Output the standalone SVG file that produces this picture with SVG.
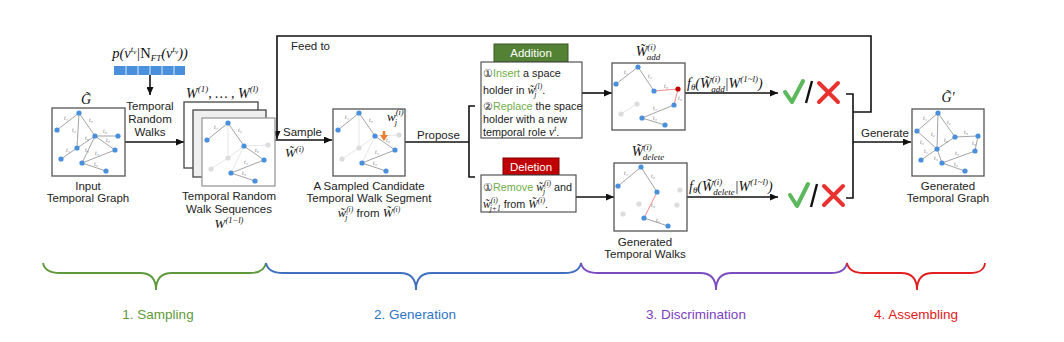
<svg xmlns="http://www.w3.org/2000/svg" xmlns:xlink="http://www.w3.org/1999/xlink" width="1064" height="342" viewBox="0 0 1064 342">
<style>
.lbl{font-family:"Liberation Sans",Arial,sans-serif;font-size:11.5px;fill:#222;text-anchor:middle}
.lbs{font-family:"Liberation Sans",Arial,sans-serif;font-size:11.5px;fill:#222}
.bx{font-family:"Liberation Sans",Arial,sans-serif;font-size:10.8px;fill:#222}
.g{fill:#70ad47}
.m{font-family:"Liberation Serif","DejaVu Serif",serif;font-style:italic;fill:#111}
.box{fill:#fff;stroke:#555;stroke-width:1.3}
.e{stroke:#9a9a9a;stroke-width:0.9;fill:none}
.eg{stroke:#e0e0e0;stroke-width:0.8;fill:none}
.er{stroke:#f28a8a;stroke-width:1;fill:none}
.n{fill:#4a8fdb}
.ng{fill:#dcdcdc}
.nr{fill:#c00000}
.t{font-family:"Liberation Serif","DejaVu Serif",serif;font-style:italic;font-size:6px;fill:#777}
.con{stroke:#111;stroke-width:1.6;fill:none}
.br{fill:none;stroke-width:1.8}
.ph{font-family:"Liberation Sans",Arial,sans-serif;font-size:13.5px;text-anchor:middle}
</style>
<defs>
<marker id="ah" markerUnits="userSpaceOnUse" markerWidth="8" markerHeight="7" refX="8" refY="3.5" orient="auto">
<path d="M0,0 L8,3.5 L0,7 z" fill="#111"/>
</marker>
<g id="walk">
<line class="eg" x1="0" y1="0" x2="0" y2="35"/>
<line class="eg" x1="16" y1="23" x2="0" y2="35"/>
<line class="eg" x1="16" y1="23" x2="40" y2="22"/>
<line class="eg" x1="0" y1="35" x2="-17" y2="46"/>
<line class="eg" x1="16" y1="23" x2="3" y2="50"/>
<line class="e" x1="0" y1="0" x2="-21" y2="17"/>
<line class="e" x1="0" y1="0" x2="16" y2="23"/>
<line class="e" x1="16" y1="23" x2="36" y2="37"/>
<line class="e" x1="3" y1="50" x2="36" y2="37"/>
<line class="e" x1="3" y1="50" x2="27" y2="58"/>
<text class="t" x="-14" y="6">t₁</text>
<text class="t" x="10" y="9">t₂</text>
<text class="t" x="27" y="29">t₃</text>
<text class="t" x="16" y="41">t₄</text>
<text class="t" x="14" y="52">t₅</text>
<circle class="n" cx="0" cy="0" r="2.6"/>
<circle class="n" cx="-21" cy="17" r="2.6"/>
<circle class="n" cx="16" cy="23" r="2.6"/>
<circle class="ng" cx="40" cy="22" r="2.6"/>
<circle class="ng" cx="0" cy="35" r="2.6"/>
<circle class="n" cx="36" cy="37" r="2.6"/>
<circle class="ng" cx="-17" cy="46" r="2.6"/>
<circle class="n" cx="3" cy="50" r="2.6"/>
<circle class="n" cx="27" cy="58" r="2.6"/>
</g>
</defs>
<rect width="1064" height="342" fill="#fff"/>

<g id="connectors">
<line class="con" x1="150" y1="75" x2="150" y2="95" marker-end="url(#ah)"/>
<line class="con" x1="125" y1="142" x2="184" y2="142" marker-end="url(#ah)"/>
<path class="con" d="M853,112 H871 V36 H277 V139" marker-end="url(#ah)"/>
<line class="con" x1="275" y1="140" x2="332" y2="140" marker-end="url(#ah)"/>
<line class="con" x1="405" y1="142" x2="469" y2="142"/>
<path class="con" d="M475,106 H469 V177 H475"/>
<line class="con" x1="582" y1="93" x2="612" y2="93" marker-end="url(#ah)"/>
<line class="con" x1="576" y1="197" x2="614" y2="197" marker-end="url(#ah)"/>
<line class="con" x1="685" y1="93" x2="778" y2="93" marker-end="url(#ah)"/>
<line class="con" x1="687" y1="197" x2="778" y2="197" marker-end="url(#ah)"/>
<path class="con" d="M846,94 H853 V198 H846"/>
<line class="con" x1="853" y1="142" x2="911" y2="142" marker-end="url(#ah)"/>
</g>

<g id="prob">
<text class="m" x="150" y="58" font-size="14.5" text-anchor="middle">p(v<tspan dy="-6" font-size="9">t</tspan><tspan dy="2" font-size="7">v</tspan><tspan dy="4">|</tspan><tspan font-style="normal">N</tspan><tspan dy="3" font-size="9">FT</tspan><tspan dy="-3">(v</tspan><tspan dy="-6" font-size="9">t</tspan><tspan dy="2" font-size="7">v</tspan><tspan dy="4">))</tspan></text>
<rect x="114" y="66" width="71" height="9" fill="#4a8fdb"/>
<path d="M126,66 V75 M138,66 V75 M150,66 V75 M162,66 V75 M174,66 V75" stroke="#fff" stroke-width="0.8"/>
<text class="lbl" x="150" y="110">Temporal</text>
<text class="lbl" x="150" y="123">Random</text>
<text class="lbl" x="150" y="136">Walks</text>
</g>

<g id="input-graph">
<text class="m" x="86" y="104" font-size="14" text-anchor="middle">G̃</text>
<rect class="box" x="52" y="108" width="73" height="68"/>
<line class="e" x1="79" y1="113" x2="57" y2="130"/>
<line class="e" x1="79" y1="113" x2="77" y2="148"/>
<line class="e" x1="79" y1="113" x2="95" y2="136"/>
<line class="e" x1="95" y1="136" x2="118" y2="136"/>
<line class="e" x1="95" y1="136" x2="77" y2="148"/>
<line class="e" x1="95" y1="136" x2="115" y2="150"/>
<line class="e" x1="77" y1="148" x2="61" y2="159"/>
<line class="e" x1="95" y1="136" x2="82" y2="163"/>
<line class="e" x1="82" y1="163" x2="115" y2="150"/>
<line class="e" x1="82" y1="163" x2="106" y2="171"/>
<text class="t" x="64" y="120">t₁</text>
<text class="t" x="72" y="132">t₂</text>
<text class="t" x="89" y="122">t₂</text>
<text class="t" x="103" y="133">t₃</text>
<text class="t" x="85" y="140">t₃</text>
<text class="t" x="106" y="142">t₃</text>
<text class="t" x="66" y="152">t₁</text>
<text class="t" x="85" y="152">t₅</text>
<text class="t" x="95" y="155">t₄</text>
<text class="t" x="94" y="166">t₅</text>
<circle class="n" cx="79" cy="113" r="2.6"/>
<circle class="n" cx="57" cy="130" r="2.6"/>
<circle class="n" cx="95" cy="136" r="2.6"/>
<circle class="n" cx="118" cy="136" r="2.6"/>
<circle class="n" cx="77" cy="148" r="2.6"/>
<circle class="n" cx="115" cy="150" r="2.6"/>
<circle class="n" cx="61" cy="159" r="2.6"/>
<circle class="n" cx="82" cy="163" r="2.6"/>
<circle class="n" cx="106" cy="171" r="2.6"/>
<text class="lbl" x="88" y="190">Input</text>
<text class="lbl" x="88" y="202">Temporal Graph</text>
</g>

<g id="walk-sequences">
<text class="m" x="186" y="98" font-size="14">W<tspan dy="-6" font-size="9">(1)</tspan><tspan dy="6">, … , W</tspan><tspan dy="-6" font-size="9">(l)</tspan></text>
<rect x="184" y="102" width="74" height="66" fill="#fff" stroke="#444" stroke-width="1.3"/>
<rect x="193" y="110" width="73" height="67" fill="#efefef" stroke="#444" stroke-width="1.3"/>
<rect x="202" y="118" width="73" height="68" fill="#fff" stroke="#999" stroke-width="1.3"/>
<use xlink:href="#walk" href="#walk" transform="translate(228,123)"/>
<text class="lbl" x="229" y="200">Temporal Random</text>
<text class="lbl" x="229" y="213">Walk Sequences</text>
<text class="m" x="229" y="228" font-size="13" text-anchor="middle">W<tspan dy="-5" font-size="8.5">(1−l)</tspan></text>
</g>

<g id="feed-sample">
<text class="lbs" x="291" y="50">Feed to</text>
<text class="lbs" x="283" y="136">Sample</text>
<text class="m" x="285" y="157" font-size="13">W̃<tspan dy="-5" font-size="8.5">(i)</tspan></text>
<text class="lbs" x="417" y="139">Propose</text>
</g>

<g id="candidate">
<rect class="box" x="333" y="109" width="72" height="67"/>
<use xlink:href="#walk" href="#walk" transform="translate(359,113)"/>
<path d="M384,131 V136" stroke="#ed7d31" stroke-width="2.6"/>
<path d="M380,135 L384,141 L388,135 z" fill="#ed7d31"/>
<text class="m" x="387" y="121" font-size="13">w<tspan dy="-6" font-size="8.5">(i)</tspan><tspan dx="-9" dy="10" font-size="8.5">j</tspan></text>
<text class="lbl" x="369" y="190">A Sampled Candidate</text>
<text class="lbl" x="369" y="202">Temporal Walk Segment</text>
<text class="lbl" x="369" y="217"><tspan class="m" font-size="12.5">w̃</tspan><tspan class="m" dy="-5" font-size="7.5">(i)</tspan><tspan class="m" dx="-8" dy="8" font-size="7.5">j</tspan><tspan dx="6" dy="-3"> from </tspan><tspan class="m" font-size="12.5">W̃</tspan><tspan class="m" dy="-5" font-size="7.5">(i)</tspan></text>
</g>

<g id="addition">
<rect x="494" y="44" width="74" height="18" fill="#548235" stroke="#385723" stroke-width="1"/>
<text class="lbl" x="531" y="57" style="fill:#fff">Addition</text>
<rect x="481" y="62" width="101" height="76" fill="#fff" stroke="#444" stroke-width="1.1"/>
<text class="bx" x="483" y="77">①<tspan class="g">Insert</tspan> a space</text>
<text class="bx" x="483" y="94">holder in <tspan class="m" font-size="11.5">w̃</tspan><tspan class="m" dy="-5" font-size="7.5">(l)</tspan><tspan class="m" dx="-8" dy="8" font-size="7.5">j</tspan><tspan dx="6" dy="-3">.</tspan></text>
<text class="bx" x="483" y="110">②<tspan class="g">Replace</tspan> the space</text>
<text class="bx" x="483" y="123">holder with a new</text>
<text class="bx" x="483" y="136">temporal role <tspan class="m" font-size="11.5">v</tspan><tspan class="m" dy="-5" font-size="7.5">t</tspan><tspan dy="5">.</tspan></text>
</g>

<g id="deletion">
<rect x="503" y="158" width="56" height="17" fill="#c00000" stroke="#800000" stroke-width="1"/>
<text class="lbl" x="531" y="171" style="fill:#fff">Deletion</text>
<rect x="481" y="175" width="95" height="37" fill="#fff" stroke="#444" stroke-width="1.1"/>
<text class="bx" x="483" y="191">①<tspan class="g">Remove</tspan> <tspan class="m" font-size="11.5">w̃</tspan><tspan class="m" dy="-5" font-size="7.5">(i)</tspan><tspan class="m" dx="-8" dy="8" font-size="7.5">j</tspan><tspan dx="6" dy="-3"> and</tspan></text>
<text class="bx" x="483" y="208"><tspan class="m" font-size="11.5">w̃</tspan><tspan class="m" dy="-5" font-size="7.5">(i)</tspan><tspan class="m" dx="-8" dy="8" font-size="7.5">j+1</tspan><tspan dy="-3"> from </tspan><tspan class="m" font-size="11.5">W̃</tspan><tspan class="m" dy="-5" font-size="7.5">(i)</tspan><tspan dy="5">.</tspan></text>
</g>

<g id="add-walk">
<text class="m" x="648" y="56" font-size="14" text-anchor="middle">W̃<tspan dy="-6" font-size="9">(i)</tspan><tspan dx="-9" dy="10" font-size="9">add</tspan></text>
<rect class="box" x="612" y="63" width="73" height="67"/>
<line class="eg" x1="637" y1="104" x2="621" y2="114"/>
<line class="e" x1="638" y1="67" x2="616" y2="84"/>
<line class="e" x1="638" y1="67" x2="654" y2="91"/>
<line class="er" x1="654" y1="91" x2="678" y2="89"/>
<line class="er" x1="678" y1="89" x2="674" y2="105"/>
<line class="e" x1="674" y1="105" x2="642" y2="118"/>
<line class="e" x1="642" y1="118" x2="665" y2="125"/>
<text class="t" x="624" y="74">t₁</text>
<text class="t" x="648" y="78">t₂</text>
<text class="t" x="664" y="88">t₃</text>
<text class="t" x="678" y="100">t₃</text>
<text class="t" x="653" y="110">t₄</text>
<text class="t" x="653" y="120">t₅</text>
<circle class="n" cx="638" cy="67" r="2.6"/>
<circle class="n" cx="616" cy="84" r="2.6"/>
<circle class="n" cx="654" cy="91" r="2.6"/>
<circle class="nr" cx="678" cy="89" r="2.6"/>
<circle class="n" cx="674" cy="105" r="2.6"/>
<circle class="ng" cx="637" cy="104" r="2.6"/>
<circle class="ng" cx="621" cy="114" r="2.6"/>
<circle class="n" cx="642" cy="118" r="2.6"/>
<circle class="n" cx="665" cy="125" r="2.6"/>
</g>

<g id="delete-walk">
<text class="m" x="648" y="156" font-size="14" text-anchor="middle">W̃<tspan dy="-6" font-size="9">(i)</tspan><tspan dx="-9" dy="10" font-size="9">delete</tspan></text>
<rect class="box" x="614" y="163" width="73" height="68"/>
<line class="e" x1="641" y1="167" x2="618" y2="186"/>
<line class="e" x1="641" y1="167" x2="657" y2="192"/>
<line class="er" x1="657" y1="192" x2="644" y2="218"/>
<line class="e" x1="644" y1="218" x2="668" y2="226"/>
<text class="t" x="624" y="175">t₁</text>
<text class="t" x="651" y="178">t₂</text>
<text class="t" x="651" y="207">t₃</text>
<text class="t" x="656" y="222">t₅</text>
<circle class="n" cx="641" cy="167" r="2.6"/>
<circle class="n" cx="618" cy="186" r="2.6"/>
<circle class="n" cx="657" cy="192" r="2.6"/>
<circle class="ng" cx="680" cy="190" r="2.6"/>
<circle class="ng" cx="639" cy="204" r="2.6"/>
<circle class="ng" cx="677" cy="205" r="2.6"/>
<circle class="ng" cx="623" cy="214" r="2.6"/>
<circle class="n" cx="644" cy="218" r="2.6"/>
<circle class="n" cx="668" cy="226" r="2.6"/>
<text class="lbl" x="645" y="246">Generated</text>
<text class="lbl" x="645" y="258">Temporal Walks</text>
</g>

<g id="discriminator-add">
<text class="m" x="687" y="88" font-size="14">f<tspan dy="2" font-size="9">θ</tspan><tspan dy="-2">(W̃</tspan><tspan dy="-6" font-size="9">(i)</tspan><tspan dx="-9" dy="10" font-size="9">add</tspan><tspan dy="-4">|W</tspan><tspan dy="-6" font-size="9">(1~l)</tspan><tspan dy="6">)</tspan></text>
<path d="M785,92 L792,102 L803,81" fill="none" stroke="#5cb85c" stroke-width="4" stroke-linecap="round" stroke-linejoin="round"/>
<line x1="806" y1="103" x2="812" y2="81" stroke="#111" stroke-width="2.4"/>
<path d="M819,83 L838,102 M838,83 L819,102" stroke="#e8322f" stroke-width="4" stroke-linecap="round"/>
</g>

<g id="discriminator-delete">
<text class="m" x="689" y="191" font-size="14">f<tspan dy="2" font-size="9">θ</tspan><tspan dy="-2">(W̃</tspan><tspan dy="-6" font-size="9">(i)</tspan><tspan dx="-9" dy="10" font-size="9">delete</tspan><tspan dy="-4">|W</tspan><tspan dy="-6" font-size="9">(1~l)</tspan><tspan dy="6">)</tspan></text>
<path d="M790,195 L797,206 L808,184" fill="none" stroke="#5cb85c" stroke-width="4" stroke-linecap="round" stroke-linejoin="round"/>
<line x1="811" y1="207" x2="817" y2="184" stroke="#111" stroke-width="2.4"/>
<path d="M824,186 L843,205 M843,186 L824,205" stroke="#e8322f" stroke-width="4" stroke-linecap="round"/>
</g>

<g id="output-graph">
<text class="lbs" x="861" y="137">Generate</text>
<text class="m" x="948" y="102" font-size="14" text-anchor="middle">G̃′</text>
<rect class="box" x="912" y="109" width="72" height="67"/>
<line class="e" x1="938" y1="113" x2="917" y2="131"/>
<line class="e" x1="938" y1="113" x2="937" y2="149"/>
<line class="e" x1="938" y1="113" x2="955" y2="137"/>
<line class="e" x1="955" y1="137" x2="978" y2="136"/>
<line class="e" x1="955" y1="137" x2="937" y2="149"/>
<line class="e" x1="917" y1="131" x2="937" y2="149"/>
<line class="e" x1="978" y1="136" x2="975" y2="151"/>
<line class="e" x1="937" y1="149" x2="921" y2="160"/>
<line class="e" x1="937" y1="149" x2="942" y2="163"/>
<line class="e" x1="942" y1="163" x2="975" y2="151"/>
<line class="e" x1="942" y1="163" x2="965" y2="171"/>
<text class="t" x="923" y="120">t₁</text>
<text class="t" x="931" y="136">t₂</text>
<text class="t" x="947" y="124">t₂</text>
<text class="t" x="964" y="134">t₃</text>
<text class="t" x="944" y="142">t₃</text>
<text class="t" x="920" y="144">t₅</text>
<text class="t" x="972" y="145">t₃</text>
<text class="t" x="924" y="153">t₁</text>
<text class="t" x="934" y="160">t₅</text>
<text class="t" x="955" y="155">t₄</text>
<text class="t" x="954" y="166">t₅</text>
<circle class="n" cx="938" cy="113" r="2.6"/>
<circle class="n" cx="917" cy="131" r="2.6"/>
<circle class="n" cx="955" cy="137" r="2.6"/>
<circle class="n" cx="978" cy="136" r="2.6"/>
<circle class="n" cx="937" cy="149" r="2.6"/>
<circle class="n" cx="975" cy="151" r="2.6"/>
<circle class="n" cx="921" cy="160" r="2.6"/>
<circle class="n" cx="942" cy="163" r="2.6"/>
<circle class="n" cx="965" cy="171" r="2.6"/>
<text class="lbl" x="948" y="190">Generated</text>
<text class="lbl" x="948" y="202">Temporal Graph</text>
</g>

<g id="phase-sampling">
<path class="br" stroke="#5e9a3c" d="M43,263 Q45,273 60,273 H140 Q156,273 156,290 Q156,273 172,273 H250 Q264,273 266,263"/>
<text class="ph" x="158" y="319" fill="#5e9a3c">1. Sampling</text>
</g>
<g id="phase-generation">
<path class="br" stroke="#3f6fbf" d="M266,263 Q268,273 283,273 H400 Q416,273 416,290 Q416,273 432,273 H565 Q579,273 581,263"/>
<text class="ph" x="415" y="319" fill="#2e75c6">2. Generation</text>
</g>
<g id="phase-discrimination">
<path class="br" stroke="#7b4cc0" d="M581,263 Q583,273 598,273 H700 Q716,273 716,290 Q716,273 732,273 H831 Q845,273 847,263"/>
<text class="ph" x="696" y="319" fill="#7b40c0">3. Discrimination</text>
</g>
<g id="phase-assembling">
<path class="br" stroke="#e02020" d="M847,263 Q849,273 864,273 H901 Q917,273 917,290 Q917,273 933,273 H970 Q984,273 985,263"/>
<text class="ph" x="916" y="319" fill="#e02020">4. Assembling</text>
</g>
</svg>
